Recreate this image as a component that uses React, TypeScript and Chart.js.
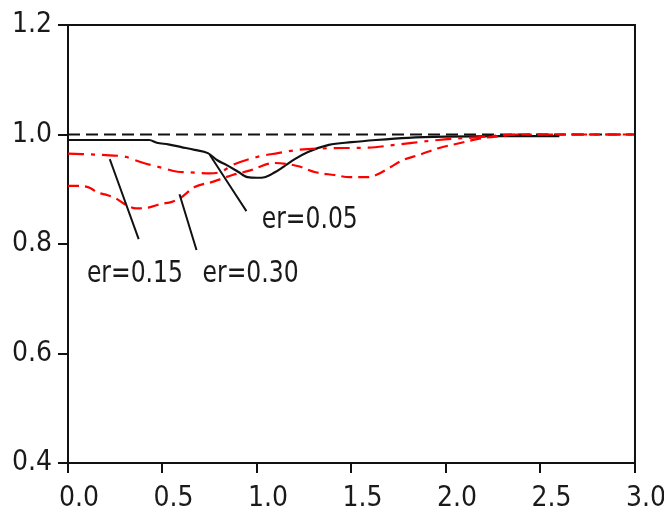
import React, { useEffect, useRef } from "react";
import { Chart, registerables } from "chart.js";

Chart.register(...registerables);

// ---- data ----
const refX = [0, 3.0];
const refY = [1.0, 1.0];

const er005X = [0, 0.43, 0.47, 0.53, 0.6, 0.67, 0.74, 0.79, 0.84, 0.9, 0.95, 1.0, 1.04, 1.09, 1.14, 1.2, 1.27, 1.38, 1.5, 1.63, 1.8, 2.0, 2.3, 2.6];
const er005Y = [0.99, 0.99, 0.985, 0.982, 0.977, 0.972, 0.966, 0.953, 0.944, 0.932, 0.922, 0.921, 0.922, 0.93, 0.941, 0.955, 0.968, 0.981, 0.986, 0.99, 0.994, 0.996, 0.997, 0.997];

const er015X = [0, 0.22, 0.31, 0.34, 0.4, 0.5, 0.58, 0.64, 0.75, 0.81, 0.87, 1.0, 1.11, 1.22, 1.38, 1.59, 1.73, 1.96, 2.17, 2.38, 3.0];
const er015Y = [0.965, 0.962, 0.959, 0.955, 0.948, 0.939, 0.932, 0.931, 0.929, 0.932, 0.944, 0.959, 0.966, 0.972, 0.975, 0.976, 0.981, 0.99, 0.995, 1.0, 1.0];

const er030X = [0, 0.06, 0.12, 0.15, 0.21, 0.25, 0.31, 0.36, 0.43, 0.49, 0.55, 0.59, 0.67, 0.76, 0.81, 0.87, 0.96, 1.09, 1.22, 1.31, 1.41, 1.49, 1.58, 1.63, 1.7, 1.77, 1.86, 1.96, 2.07, 2.17, 2.28, 2.38, 3.0];
const er030Y = [0.906, 0.906, 0.902, 0.895, 0.889, 0.884, 0.871, 0.865, 0.867, 0.873, 0.877, 0.883, 0.904, 0.913, 0.919, 0.926, 0.934, 0.948, 0.942, 0.931, 0.926, 0.922, 0.922, 0.926, 0.939, 0.953, 0.963, 0.975, 0.984, 0.992, 0.997, 1.0, 1.0];

// leader lines from each label to its curve
const lead005X = [0.75, 0.944];
const lead005Y = [0.963, 0.86];
const lead015X = [0.221, 0.374];
const lead015Y = [0.955, 0.809];
const lead030X = [0.59, 0.68];
const lead030Y = [0.891, 0.789];

const labelTexts = ["er=0.05", "er=0.15", "er=0.30"];
const labelX = [1.025, 0.1, 0.712];
const labelY = [0.844, 0.745, 0.745];

const xTicks = [0, 0.5, 1.0, 1.5, 2.0, 2.5, 3.0];
const yTicks = [0.4, 0.6, 0.8, 1.0, 1.2];

const FONT = "'Liberation Sans Narrow', 'DejaVu Sans Condensed', 'Liberation Sans', Arial, sans-serif";
const TXT = "#1a1a1a";

const pts = (xs: number[], ys: number[]) => xs.map((x, i) => ({ x, y: ys[i] }));

const framePlugin = {
  id: "frame",
  afterDatasetsDraw(chart: any) {
    const { ctx, chartArea, scales } = chart;
    ctx.save();
    ctx.strokeStyle = "#111";
    ctx.lineWidth = 2;
    ctx.beginPath();
    ctx.moveTo(chartArea.left, chartArea.top);
    ctx.lineTo(chartArea.right, chartArea.top);
    ctx.lineTo(chartArea.right, chartArea.bottom);
    ctx.stroke();
    ctx.fillStyle = TXT;
    ctx.font = `30px ${FONT}`;
    ctx.textAlign = "left";
    ctx.textBaseline = "middle";
    labelTexts.forEach((t, i) => {
      const px = scales.x.getPixelForValue(labelX[i]);
      const py = scales.y.getPixelForValue(labelY[i]);
      ctx.save();
      ctx.translate(px, py);
      ctx.scale(0.87, 1);
      ctx.fillText(t, 0, 0);
      ctx.restore();
    });
    ctx.restore();
  },
};

export default function App() {
  const ref = useRef<HTMLCanvasElement>(null);
  useEffect(() => {
    if (!ref.current) return;
    const line = (data: any, color: string, dash: number[], width = 2) => ({
      data,
      borderColor: color,
      borderWidth: width,
      borderDash: dash,
      pointRadius: 0,
      fill: false,
      cubicInterpolationMode: "monotone" as const,
    });
    const chart = new Chart(ref.current, {
      type: "line",
      data: {
        datasets: [
          line(pts(lead005X, lead005Y), "#111", [], 2),
          line(pts(lead015X, lead015Y), "#111", [], 2),
          line(pts(lead030X, lead030Y), "#111", [], 2),
          line(pts(er015X, er015Y), "#ff0000", [16, 7, 4, 7], 2.2),
          line(pts(er030X, er030Y), "#ff0000", [11, 6], 2.2),
          line(pts(er005X, er005Y), "#111", [], 2.2),
          line(pts(refX, refY), "#111", [12, 6], 2.2),
        ],
      },
      options: {
        animation: false,
        responsive: false,
        events: [],
        layout: { padding: { left: 0, top: 25, right: 27, bottom: 0 } },
        plugins: { legend: { display: false }, tooltip: { enabled: false } },
        scales: {
          x: {
            type: "linear",
            min: 0,
            max: 3.0,
            afterFit: (s: any) => { s.height = 52; },
            afterBuildTicks: (s: any) => { s.ticks = xTicks.map((v) => ({ value: v })); },
            border: { display: true, color: "#111", width: 2 },
            grid: { drawOnChartArea: false, drawTicks: true, tickLength: 10, color: "#111", lineWidth: 2 },
            ticks: {
              callback: (v: any) => Number(v).toFixed(1),
              font: { family: FONT, size: 28 },
              color: TXT,
              padding: 9,
              labelOffset: 11,
              maxRotation: 0,
              autoSkip: false,
            },
          },
          y: {
            type: "linear",
            min: 0.4,
            max: 1.2,
            afterFit: (s: any) => { s.width = 68; },
            afterBuildTicks: (s: any) => { s.ticks = yTicks.map((v) => ({ value: v })); },
            border: { display: true, color: "#111", width: 2 },
            grid: { drawOnChartArea: false, drawTicks: true, tickLength: 10, color: "#111", lineWidth: 2 },
            ticks: {
              callback: (v: any) => Number(v).toFixed(1),
              font: { family: FONT, size: 28 },
              color: TXT,
              padding: 6,
              autoSkip: false,
            },
          },
        },
      },
      plugins: [framePlugin],
    });
    return () => chart.destroy();
  }, []);
  return (
    <div style={{ position: "fixed", left: 0, top: 0, width: 664, height: 515, background: "#fff" }}>
      <canvas ref={ref} width={664} height={515} />
    </div>
  );
}
